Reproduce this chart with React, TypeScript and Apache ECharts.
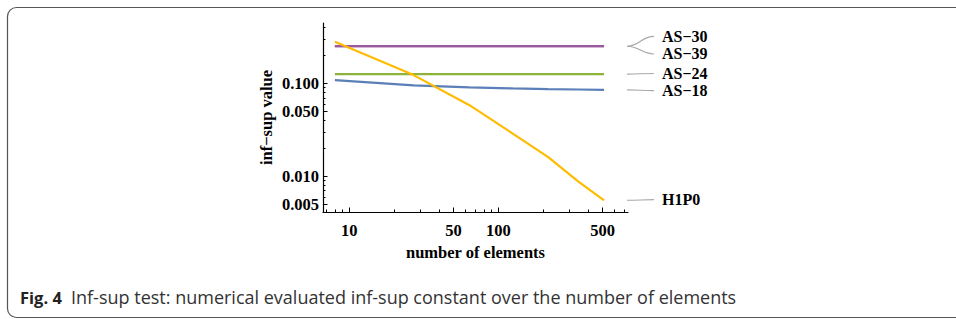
import React, { useEffect, useRef } from "react";
import * as echarts from "echarts";

// number of elements (x values)
const elements = [8, 27, 64, 125, 216, 343, 512];
// inf-sup values per element
const as30 = [0.252, 0.252, 0.252, 0.252, 0.252, 0.252, 0.252];
const as39 = [0.252, 0.252, 0.252, 0.252, 0.252, 0.252, 0.252];
const as24 = [0.126, 0.126, 0.126, 0.126, 0.126, 0.126, 0.126];
const as18 = [0.1086, 0.0952, 0.0906, 0.0883, 0.0869, 0.0861, 0.0853];
const h1p0 = [0.281, 0.123, 0.0583, 0.0288, 0.0161, 0.00883, 0.00551];

const seriesNames = ["AS−30", "AS−39", "AS−24", "AS−18", "H1P0"];
const seriesValues = [as30, as39, as24, as18, h1p0];
const seriesColors = ["#9b59a0", "#9b59a0", "#8db43a", "#5b7fb8", "#ffbb00"];

// tick labels / tick positions
const xMajor = [10, 50, 100, 500];
const xMinor = [7, 8, 9, 20, 30, 40, 60, 70, 80, 90, 200, 300, 400, 600, 700];
const yMajor = [0.005, 0.01, 0.05, 0.1];
const yMinor = [0.006, 0.007, 0.008, 0.009, 0.02, 0.03, 0.04, 0.06, 0.07, 0.08, 0.09, 0.2, 0.3, 0.4];

const X_RANGE = [6.66, 741];
const Y_RANGE = [0.00412, 0.448];

const lg = (v: number) => Math.log10(v);
const SERIF = "'Liberation Serif', 'Times New Roman', serif";
const SANS = "'Open Sans', 'Noto Sans', sans-serif";

// label vertical offsets (layout, px) relative to each series end
const labelDy = [-9.8, 7.8, -0.7, 0.8, -0.7];

export default function App() {
  const ref = useRef<HTMLDivElement>(null);
  useEffect(() => {
    if (!ref.current) return;
    const chart = echarts.init(ref.current, null, { renderer: "svg" });
    const labelStyle = { fontFamily: SERIF, fontWeight: "bold" as const, fontSize: 16.5, color: "#000" };
    const order = [0, 1, 2, 3, 4];
    chart.setOption({
      animation: false,
      grid: { left: 323, right: 328, top: 23, bottom: 107 },
      xAxis: [
        {
          type: "value",
          min: lg(X_RANGE[0]),
          max: lg(X_RANGE[1]),
          name: "number of elements",
          nameLocation: "middle",
          nameGap: 26,
          nameTextStyle: labelStyle,
          splitLine: { show: false },
          axisLine: { show: true, lineStyle: { color: "#000", width: 1.2 } },
          axisTick: { show: true, inside: true, length: 4.5, customValues: xMajor.map(lg), lineStyle: { color: "#000" } },
          axisLabel: {
            ...labelStyle,
            margin: 10,
            customValues: xMajor.map(lg),
            formatter: (v: number) => String(Math.round(Math.pow(10, v))),
          },
        },
        {
          type: "value",
          position: "bottom",
          min: lg(X_RANGE[0]),
          max: lg(X_RANGE[1]),
          splitLine: { show: false },
          axisLine: { show: false },
          axisTick: { show: true, inside: true, length: 2.5, customValues: xMinor.map(lg), lineStyle: { color: "#000" } },
          axisLabel: { show: false },
        },
      ],
      yAxis: [
        {
          type: "value",
          position: "left",
          min: lg(Y_RANGE[0]),
          max: lg(Y_RANGE[1]),
          name: "inf−sup value",
          nameLocation: "middle",
          nameRotate: 90,
          nameGap: 48,
          nameTextStyle: labelStyle,
          splitLine: { show: false },
          axisLine: { show: true, lineStyle: { color: "#000", width: 1.2 } },
          axisTick: { show: true, inside: true, length: 4.5, customValues: yMajor.map(lg), lineStyle: { color: "#000" } },
          axisLabel: {
            ...labelStyle,
            margin: 4,
            customValues: yMajor.map(lg),
            formatter: (v: number) => Math.pow(10, v).toFixed(3),
          },
        },
        {
          type: "value",
          position: "left",
          min: lg(Y_RANGE[0]),
          max: lg(Y_RANGE[1]),
          splitLine: { show: false },
          axisLine: { show: false },
          axisTick: { show: true, inside: true, length: 2.5, customValues: yMinor.map(lg), lineStyle: { color: "#000" } },
          axisLabel: { show: false },
        },
      ],
      series: order.map((i) => ({
        name: seriesNames[i],
        type: "line",
        xAxisIndex: 0,
        yAxisIndex: 0,
        showSymbol: false,
        symbol: "none",
        smooth: false,
        lineStyle: { color: seriesColors[i], width: 2.2 },
        z: i === 4 ? 5 : 2,
        data: elements.map((n, k) => [lg(n), lg(seriesValues[i][k])]),
      })),
    });

    const last = elements.length - 1;
    const gridRight = chart.convertToPixel({ xAxisIndex: 0 }, lg(X_RANGE[1])) as number;
    const x0 = gridRight - 1;
    const x1 = gridRight + 26;
    const graphics: any[] = [];
    order.forEach((i) => {
      const p = chart.convertToPixel({ seriesIndex: i }, [lg(elements[last]), lg(seriesValues[i][last])]) as number[];
      const py = p[1];
      const ty = py + labelDy[i];
      graphics.push({
        type: "bezierCurve",
        silent: true,
        shape: { x1: x0, y1: py, x2: x1, y2: ty, cpx1: x0 + 13, cpy1: py, cpx2: x0 + 14, cpy2: ty },
        style: { stroke: "#a8a8a8", lineWidth: 1.1, fill: "none" },
      });
      graphics.push({
        type: "text",
        silent: true,
        x: x1 + 8,
        y: ty,
        style: {
          text: seriesNames[i],
          fill: "#000",
          font: `bold 16px ${SERIF}`,
          verticalAlign: "middle",
          align: "left",
        },
      });
    });
    // figure frame
    graphics.push({
      type: "rect",
      silent: true,
      shape: { x: 7.5, y: 7.5, width: 980, height: 310, r: 9 },
      style: { stroke: "#555", lineWidth: 1.2, fill: "none" },
    });
    graphics.push({
      type: "text",
      silent: true,
      x: 20,
      y: 297,
      style: { text: "Fig. 4", fill: "#222", font: `bold 16.5px ${SANS}`, verticalAlign: "middle" },
    });
    graphics.push({
      type: "text",
      silent: true,
      x: 71,
      y: 297,
      style: {
        text: "Inf-sup test: numerical evaluated inf-sup constant over the number of elements",
        fill: "#333",
        font: `18px ${SANS}`,
        verticalAlign: "middle",
      },
    });
    chart.setOption({ graphic: graphics });
    return () => chart.dispose();
  }, []);
  return <div ref={ref} style={{ position: "absolute", left: 0, top: 0, width: 956, height: 319, background: "#fff" }} />;
}
